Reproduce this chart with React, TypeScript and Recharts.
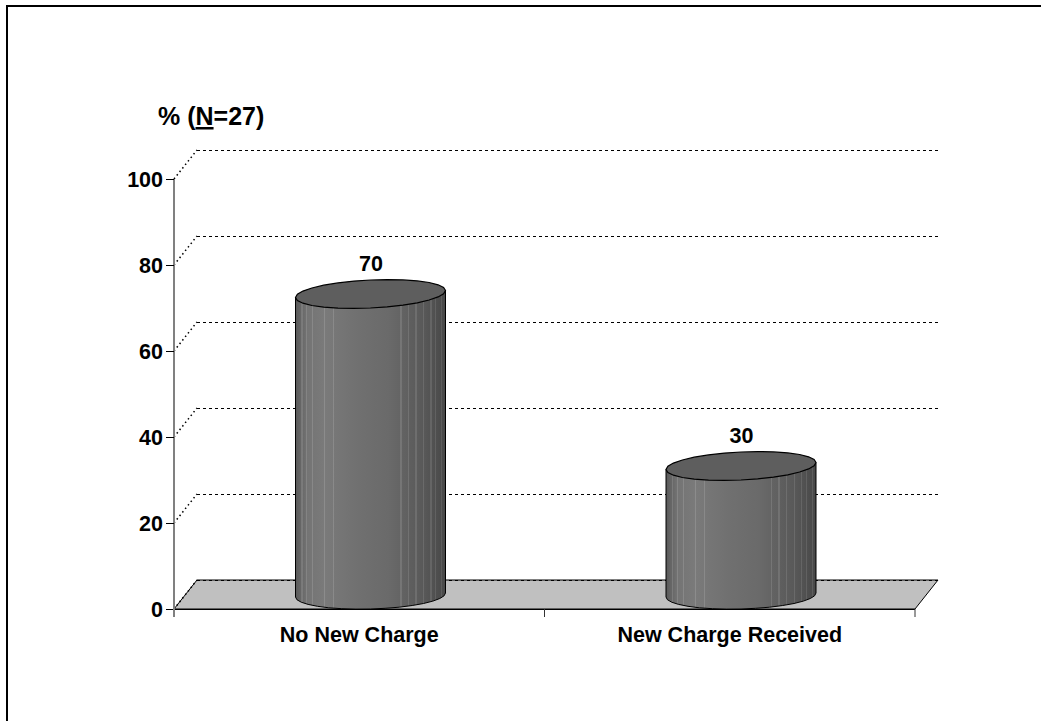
import React from "react";
import { BarChart, Bar, XAxis, YAxis, CartesianGrid, LabelList } from "recharts";

const categories = ["No New Charge", "New Charge Received"];
const percentages = [70, 30];
const valueTicks = [0, 20, 40, 60, 80, 100];

const rows = categories.map((name, i) => ({ name, value: percentages[i] }));

const FONT = "'Liberation Sans', Arial, sans-serif";
const LABEL_SIZE = 21.5;
const DEPTH_X = 23;
const DEPTH_Y = 29;
const BAR_SHIFT = 11.5;
const ELLIPSE_RY = 14;

// Horizontal shading of the cylinder wall: [fraction across, grey level]
const wallRamp: [number, number][] = [
  [0, 88], [0.03, 100], [0.08, 116], [0.2, 122], [0.42, 112], [0.62, 106], [0.72, 98], [0.86, 88], [1, 72],
];
// Thin lighter facets on the wall
const facets = [0.04, 0.07, 0.11, 0.19, 0.25, 0.7, 0.75, 0.8, 0.85, 0.9, 0.93, 0.97];
const FACET_WIDTH = 0.007;
const FACET_LIFT = 18;

const grey = (v: number) => `rgb(${v},${v},${v})`;

function rampAt(t: number) {
  for (let i = 1; i < wallRamp.length; i++) {
    const [a, va] = wallRamp[i - 1];
    const [b, vb] = wallRamp[i];
    if (t <= b) return va + ((t - a) / (b - a)) * (vb - va);
  }
  return wallRamp[wallRamp.length - 1][1];
}

function wallStops() {
  const edges: [number, number][] = facets.map((f) => [f, f + FACET_WIDTH]);
  const all = [...wallRamp.map((s) => s[0]), ...edges.flat()].sort((a, b) => a - b);
  const out: { o: number; c: string }[] = [];
  for (const t of all) {
    const inside = edges.find(([s, e]) => t >= s && t < e);
    const leaving = edges.find(([, e]) => t === e);
    if (leaving) out.push({ o: t, c: grey(Math.round(rampAt(t)) + FACET_LIFT) });
    if (inside && !leaving) out.push({ o: t, c: grey(Math.round(rampAt(t))) });
    out.push({ o: t, c: grey(Math.round(rampAt(t)) + (inside ? FACET_LIFT : 0)) });
  }
  return out;
}

// Faceted outline of a slightly tilted ellipse, sampled like the low-poly 3D drum
function ellipsePoints(cx: number, cy: number, rx: number, ry: number, tilt: number, from: number, to: number, n: number) {
  const pts: string[] = [];
  for (let i = 0; i <= n; i++) {
    const a = from + ((to - from) * i) / n;
    pts.push(`${(cx + rx * Math.cos(a)).toFixed(1)} ${(cy + ry * Math.sin(a) - tilt * Math.cos(a)).toFixed(1)}`);
  }
  return pts;
}

function Cylinder(props: any) {
  const { x, y, width, height } = props;
  const cx = x + width / 2 + BAR_SHIFT;
  const rx = width / 2;
  const topY = y - ELLIPSE_RY;
  const baseY = y + height - ELLIPSE_RY;
  const top = ellipsePoints(cx, topY, rx, ELLIPSE_RY, 3.5, 0, Math.PI * 2, 28);
  const base = ellipsePoints(cx, baseY, rx, ELLIPSE_RY, 2, Math.PI, 0, 16);
  const body = `M${top[14]} L${base.join(" L")} L${top[0]} Z`;
  return (
    <g>
      <path d={body} fill="url(#drumWall)" stroke="#000" strokeWidth={1} strokeLinejoin="round" />
      <path d={`M${top.join(" L")} Z`} fill="#5e5e5e" stroke="#000" strokeWidth={1.2} />
    </g>
  );
}

function ValueLabel(props: any) {
  const { x, y, width, value } = props;
  return (
    <text x={x + width / 2 + BAR_SHIFT + 0.5} y={y - 37} textAnchor="middle" fontFamily={FONT} fontWeight="bold" fontSize={LABEL_SIZE} fill="#000">
      {value}
    </text>
  );
}

// Back-wall gridline with its dotted run down to the axis; the baseline also carries the floor
function GridLine(props: any) {
  const { x1, x2, y1, index } = props;
  return (
    <g>
      {index === 0 && (
        <polygon
          points={`${x1},${y1} ${x1 + DEPTH_X},${y1 - DEPTH_Y} ${x2 + DEPTH_X},${y1 - DEPTH_Y} ${x2},${y1}`}
          fill="#c0c0c0"
          stroke="#000"
          strokeWidth={1}
        />
      )}
      <line x1={x1} y1={y1} x2={x1 + DEPTH_X} y2={y1 - DEPTH_Y} stroke="#000" strokeWidth={1.5} strokeDasharray="1.5 3" />
      <line
        x1={x1 + DEPTH_X}
        y1={y1 - DEPTH_Y}
        x2={x2 + DEPTH_X}
        y2={y1 - DEPTH_Y}
        stroke="#000"
        strokeWidth={1}
        strokeDasharray="3 3"
        shapeRendering="crispEdges"
      />
    </g>
  );
}

// Category name at the band centre, with tick marks on the band edges
function CategoryTick(props: any) {
  const { x, y, payload, index } = props;
  const band = 370.5;
  const tickTop = y - 8;
  return (
    <g>
      <line x1={x - band / 2} y1={tickTop} x2={x - band / 2} y2={tickTop + 8} stroke={index === 0 ? "#808080" : "#333"} strokeWidth={index === 0 ? 2 : 1} />
      {index === categories.length - 1 && (
        <line x1={x + band / 2} y1={tickTop} x2={x + band / 2} y2={tickTop + 8} stroke="#333" />
      )}
      <text x={x} y={y + 25} textAnchor="middle" fontFamily={FONT} fontWeight="bold" fontSize={LABEL_SIZE} fill="#000">
        {payload.value}
      </text>
    </g>
  );
}

export default function App() {
  return (
    <div style={{ position: "absolute", left: 0, top: 0, width: 1041, height: 721, background: "#fff", overflow: "hidden" }}>
      <div style={{ position: "absolute", left: 6, top: 5, right: 0, bottom: 0, borderLeft: "2px solid #000", borderTop: "2px solid #000" }} />
      <BarChart
        width={1041}
        height={721}
        data={rows}
        margin={{ top: 179, right: 126, bottom: 52, left: 0 }}
        style={{ position: "absolute", left: 0, top: 0 }}
      >
        <defs>
          <linearGradient id="drumWall" x1="0" y1="0" x2="1" y2="0">
            {wallStops().map((s, i) => (
              <stop key={i} offset={s.o} stopColor={s.c} />
            ))}
          </linearGradient>
        </defs>
        <CartesianGrid vertical={false} horizontal={GridLine as any} syncWithTicks />
        <XAxis dataKey="name" interval={0} height={60} tickLine={false} axisLine={{ stroke: "#000", shapeRendering: "crispEdges" }} tick={CategoryTick as any} />
        <YAxis
          width={174}
          domain={[0, 100]}
          ticks={valueTicks}
          tickSize={8}
          tickMargin={3}
          axisLine={{ stroke: "#808080", strokeWidth: 2 }}
          tickLine={{ stroke: "#000", shapeRendering: "crispEdges" }}
          tick={{ fontFamily: FONT, fontWeight: "bold", fontSize: LABEL_SIZE, fill: "#000" }}
        />
        <Bar dataKey="value" barSize={150} shape={Cylinder as any} isAnimationActive={false}>
          <LabelList dataKey="value" content={ValueLabel as any} />
        </Bar>
        <text x={158} y={125} fontFamily={FONT} fontWeight="bold" fontSize={25} fill="#000">
          % (<tspan textDecoration="underline">N</tspan>=27)
        </text>
      </BarChart>
    </div>
  );
}
